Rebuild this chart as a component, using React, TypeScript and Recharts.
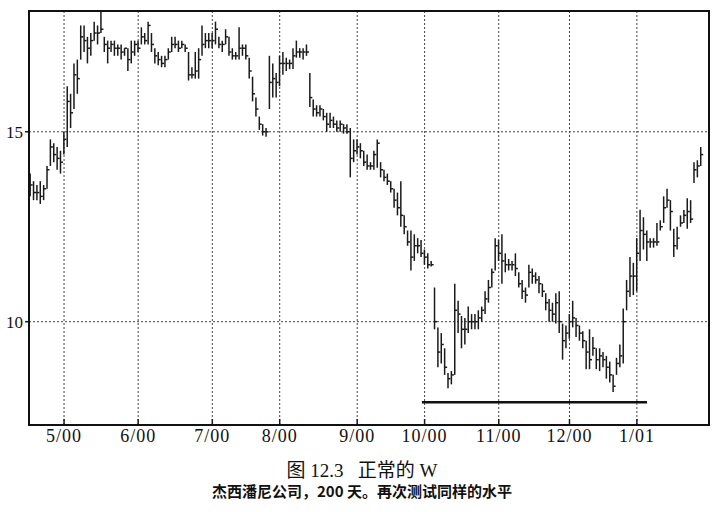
import { ComposedChart, Bar, XAxis, YAxis, CartesianGrid, ReferenceLine } from 'recharts'

/* ─── Data (one bar per trading day) ─── */

// daily highs, Apr 2000 -> Jan 2001
const highs = [
  13.9, 13.7, 13.6, 13.7, 13.6, 14.1, 14.8, 14.7, 14.6, 14.5,
  15.0, 16.2, 16.0, 16.8, 16.9, 17.8, 17.8, 17.5, 17.6, 17.9, 17.8, 18.2, 17.5, 17.4, 17.4, 17.4, 17.3, 17.3, 17.2, 17.2, 17.4, 17.4,
  17.4, 17.75, 17.6, 17.9, 17.6, 17.2, 17.1, 17.0, 17.0, 17.2, 17.5, 17.5, 17.4, 17.4, 17.3, 17.1, 16.7, 17.1, 17.2, 17.8, 17.6, 17.6,
  17.6, 17.9, 17.5, 17.4, 17.7, 17.5, 17.2, 17.1, 17.75, 17.3, 17.3, 16.95, 16.45, 15.9, 15.4, 15.2, 15.1, 17.0, 16.8, 16.55,
  17.0, 17.1, 16.95, 16.9, 17.2, 17.4, 17.2, 17.2, 17.3, 16.55, 15.85, 15.7, 15.7, 15.6, 15.5, 15.5, 15.4, 15.3, 15.3, 15.2, 15.2, 15.1, 14.8,
  14.8, 14.7, 14.5, 14.4, 14.2, 14.5, 14.8, 14.2, 14.0, 13.9, 13.7, 13.5, 13.4, 13.7, 12.8, 12.4, 12.4, 12.3, 12.2, 12.15,
  11.9, 11.8, 11.6, 10.9, 9.85, 9.7, 9.3, 8.65, 8.7, 11.0, 10.55, 10.15, 10.1, 10.4, 10.2, 10.2, 10.3, 10.4, 10.8, 11.1, 11.4, 12.2,
  12.15, 12.3, 11.8, 11.65, 11.6, 11.8, 11.3, 11.1, 10.9, 11.5, 11.4, 11.3, 11.2, 11.0, 10.75, 10.6, 10.5, 10.75, 10.8, 9.95, 9.9,
  10.2, 10.55, 10.1, 9.9, 9.75, 9.5, 9.8, 9.6, 9.3, 9.3, 9.2, 9.1, 8.95, 8.6, 9.05, 9.4, 10.35, 11.1, 11.7, 11.55,
  12.2, 12.95, 12.75, 12.4, 12.2, 12.2, 12.6, 12.67, 13.3, 13.5, 13.2, 12.45, 12.5, 12.8, 12.94, 13.25, 13.2, 14.2, 14.25, 14.6,
]

const lows = [
  13.3, 13.2, 13.2, 13.1, 13.2, 13.5, 14.1, 14.2, 14.0, 13.9,
  14.4, 14.6, 15.1, 15.6, 16.0, 16.9, 17.1, 16.8, 17.0, 17.4, 17.3, 17.6, 17.1, 16.8, 17.1, 17.0, 17.0, 16.9, 17.0, 16.6, 16.8, 17.0,
  17.1, 17.3, 17.3, 17.3, 17.1, 16.8, 16.75, 16.7, 16.7, 16.9, 17.1, 17.2, 17.1, 17.2, 17.1, 16.35, 16.4, 16.4, 16.4, 17.0, 17.2, 17.2,
  17.2, 17.3, 17.2, 17.1, 17.3, 17.0, 16.9, 16.9, 16.9, 17.0, 16.9, 16.4, 15.8, 15.4, 15.05, 14.9, 14.87, 15.6, 15.9, 15.9,
  16.2, 16.5, 16.6, 16.65, 16.65, 16.95, 16.95, 16.9, 17.0, 15.65, 15.4, 15.4, 15.4, 15.3, 15.0, 15.1, 15.1, 15.0, 15.0, 14.95, 14.95, 13.8, 14.2,
  14.4, 14.3, 14.1, 14.0, 14.0, 14.0, 14.05, 13.8, 13.7, 13.6, 13.4, 13.0, 12.8, 12.5, 12.3, 12.0, 11.35, 11.6, 11.8, 11.7,
  11.5, 11.4, 11.45, 9.8, 8.8, 8.9, 8.6, 8.25, 8.35, 8.6, 9.7, 9.3, 9.4, 9.7, 9.8, 9.8, 9.8, 10.0, 10.2, 10.5, 10.9, 11.35,
  11.6, 11.0, 11.3, 11.35, 11.35, 11.2, 10.9, 10.6, 10.5, 10.9, 11.0, 11.0, 10.75, 10.65, 10.3, 10.0, 10.0, 9.95, 9.7, 9.0, 9.3,
  9.55, 9.85, 9.6, 9.5, 9.3, 8.75, 8.75, 9.1, 8.75, 8.7, 8.8, 8.5, 8.4, 8.15, 8.6, 8.8, 8.9, 10.3, 10.65, 10.7,
  10.8, 11.6, 11.9, 11.6, 11.95, 11.95, 12.0, 12.4, 12.6, 13.0, 12.4, 11.7, 11.9, 12.5, 12.6, 12.45, 12.6, 13.65, 13.8, 14.1,
]

const closes = [
  13.6, 13.4, 13.4, 13.3, 13.5, 14.0, 14.6, 14.4, 14.3, 14.2,
  14.8, 15.8, 15.5, 16.5, 16.4, 17.5, 17.4, 17.2, 17.4, 17.6, 17.6, 17.7, 17.3, 17.2, 17.3, 17.2, 17.2, 17.1, 17.2, 16.9, 17.1, 17.3,
  17.2, 17.5, 17.4, 17.8, 17.3, 17.0, 16.9, 16.8, 16.9, 17.1, 17.3, 17.3, 17.2, 17.3, 17.2, 16.5, 16.5, 16.6, 16.9, 17.3, 17.4, 17.4,
  17.4, 17.7, 17.3, 17.3, 17.5, 17.1, 17.0, 17.0, 17.2, 17.2, 17.0, 16.6, 16.0, 15.6, 15.2, 15.0, 15.0, 16.3, 16.4, 16.3,
  16.8, 16.8, 16.8, 16.8, 17.0, 17.1, 17.1, 17.1, 17.1, 15.9, 15.6, 15.5, 15.6, 15.4, 15.2, 15.3, 15.2, 15.1, 15.2, 15.1, 15.0, 14.3, 14.5,
  14.6, 14.5, 14.2, 14.1, 14.1, 14.4, 14.7, 14.0, 13.8, 13.7, 13.5, 13.2, 13.0, 12.8, 12.5, 12.1, 11.7, 12.0, 12.0, 11.8,
  11.7, 11.5, 11.5, 10.0, 9.2, 9.4, 8.8, 8.5, 8.6, 10.3, 10.2, 9.8, 9.8, 10.0, 10.0, 10.0, 10.1, 10.3, 10.6, 10.9, 11.3, 12.0,
  11.8, 11.6, 11.5, 11.5, 11.5, 11.4, 11.0, 10.8, 10.7, 11.3, 11.2, 11.1, 11.0, 10.8, 10.5, 10.3, 10.2, 10.5, 10.0, 9.5, 9.7,
  10.0, 10.1, 9.9, 9.7, 9.5, 9.2, 9.0, 9.3, 9.0, 9.1, 9.0, 8.8, 8.6, 8.3, 8.9, 9.1, 10.0, 10.8, 11.2, 11.2,
  11.8, 12.4, 12.3, 12.1, 12.1, 12.1, 12.1, 12.5, 13.0, 13.2, 12.9, 12.0, 12.2, 12.6, 12.8, 12.9, 12.7, 14.0, 14.1, 14.4,
]

// index of the first bar of each month
const monthTicks = [10, 32, 54, 74, 97, 117, 139, 160, 180]
const monthLabels = ['5/00', '6/00', '7/00', '8/00', '9/00', '10/00', '11/00', '12/00', '1/01']

const priceTicks = [10, 15]

// support line drawn under the two lows
const supportLevel = 7.88
const supportFrom = 116.2
const supportTo = 183

const bars = highs.map((h, i) => ({
  i,
  range: [lows[i], h],
  high: h,
  low: lows[i],
  close: closes[i],
}))

/* ─── Shapes ─── */

function HlcBar(props: any) {
  const { x, y, width, height, payload } = props
  if (x == null || y == null) return null
  const cx = x + width / 2
  const top = Math.min(y, y + height)
  const h = Math.abs(height)
  const span = payload.high - payload.low || 1
  const cy = top + ((payload.high - payload.close) / span) * h
  return (
    <g stroke="#1a1a1a" strokeWidth={1.5}>
      <line x1={cx} x2={cx} y1={top} y2={top + h} />
      <line x1={cx} x2={cx + 2.5} y1={cy} y2={cy} />
    </g>
  )
}

function MonthTick({ x, y, payload }: any) {
  const k = monthTicks.indexOf(payload.value)
  return (
    <g>
      <line x1={x} x2={x} y1={y} y2={y - 6} stroke="#1a1a1a" strokeWidth={1.5} />
      <text
        x={x}
        y={y + 17}
        textAnchor="middle"
        fontFamily="'Liberation Serif', serif"
        fontSize={18}
        letterSpacing={1}
        fill="#111"
      >
        {monthLabels[k]}
      </text>
    </g>
  )
}

/* ─── Main ─── */

export default function App() {
  return (
    <div style={{ position: 'absolute', left: 0, top: 0, width: 724, height: 512, background: '#fff' }}>
      <ComposedChart
        width={724}
        height={450}
        data={bars}
        margin={{ top: 11, right: 15, bottom: 0, left: 0 }}
      >
        <CartesianGrid stroke="#444" strokeWidth={1} strokeDasharray="2 2" />
        <XAxis
          dataKey="i"
          type="number"
          domain={[-0.4, 201.4]}
          ticks={monthTicks}
          allowDataOverflow
          axisLine={false}
          tickLine={false}
          tickSize={0}
          tickMargin={0}
          height={25}
          interval={0}
          tick={<MonthTick />}
        />
        <YAxis
          type="number"
          domain={[7.28, 18.18]}
          ticks={priceTicks}
          allowDataOverflow
          width={29}
          axisLine={false}
          tickLine={{ stroke: '#1a1a1a', strokeWidth: 1.5 }}
          tickSize={4}
          tickMargin={2}
          tick={{ fill: '#111', fontSize: 17, fontFamily: "'Liberation Serif', serif" }}
        />
        <Bar dataKey="range" barSize={3} isAnimationActive={false} shape={<HlcBar />} />
        <ReferenceLine
          segment={[
            { x: supportFrom, y: supportLevel },
            { x: supportTo, y: supportLevel },
          ]}
          stroke="#111"
          strokeWidth={2.5}
        />
      </ComposedChart>

      {/* plot frame */}
      <div
        style={{
          position: 'absolute',
          left: 28,
          top: 10,
          width: 682,
          height: 416,
          boxSizing: 'border-box',
          border: '2px solid #111',
          pointerEvents: 'none',
        }}
      />

      {/* captions */}
      <div
        style={{
          position: 'absolute',
          left: 0,
          width: 724,
          top: 455,
          textAlign: 'center',
          fontFamily: "'Liberation Serif', 'Noto Sans CJK SC', serif",
          fontSize: 19,
          color: '#111',
        }}
      >
        图 12.3&nbsp;&nbsp;&nbsp;正常的 W
      </div>
      <div
        style={{
          position: 'absolute',
          left: 0,
          width: 724,
          top: 480,
          textAlign: 'center',
          fontFamily: "'Noto Sans CJK SC', sans-serif",
          fontWeight: 700,
          fontSize: 15,
          color: '#111',
        }}
      >
        杰西潘尼公司，200 天。再次测试同样的水平
      </div>
    </div>
  )
}
